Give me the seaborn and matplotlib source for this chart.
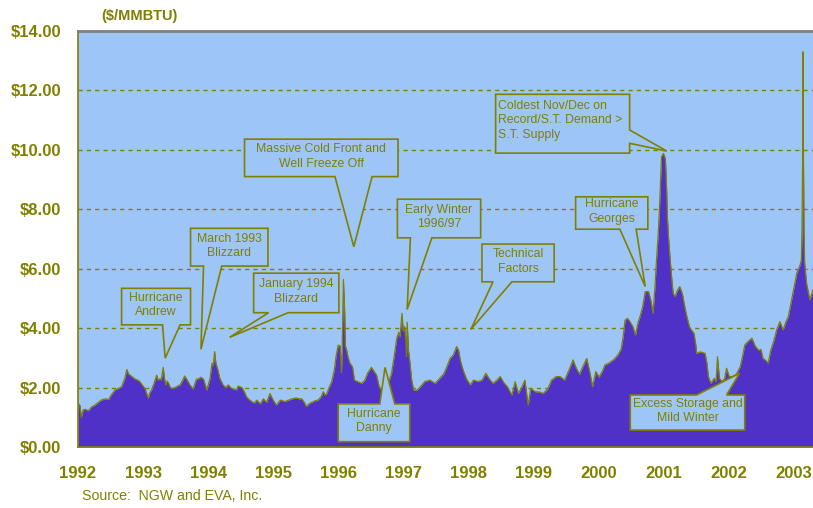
import matplotlib
matplotlib.use("Agg")
import matplotlib.pyplot as plt
from matplotlib.patches import Polygon
import numpy as np
import pandas as pd
import seaborn as sns

# ---------------- data ----------------
years = [
    1992.00, 1992.03, 1992.05, 1992.08, 1992.11, 1992.16, 1992.21, 1992.26, 1992.31, 1992.36,
    1992.42, 1992.47, 1992.51, 1992.57, 1992.62, 1992.67, 1992.72, 1992.75, 1992.78, 1992.80,
    1992.84, 1992.88, 1992.92, 1992.95, 1993.00, 1993.03, 1993.08, 1993.10, 1993.13, 1993.17,
    1993.21, 1993.23, 1993.26, 1993.28, 1993.31, 1993.33, 1993.35, 1993.37, 1993.39, 1993.42,
    1993.44, 1993.49, 1993.53, 1993.57, 1993.61, 1993.64, 1993.68, 1993.72, 1993.77, 1993.82,
    1993.86, 1993.89, 1993.93, 1993.98, 1994.03, 1994.06, 1994.08, 1994.10, 1994.12, 1994.15,
    1994.18, 1994.23, 1994.27, 1994.31, 1994.36, 1994.40, 1994.44, 1994.46, 1994.52, 1994.56,
    1994.59, 1994.63, 1994.67, 1994.71, 1994.75, 1994.80, 1994.85, 1994.90, 1994.95, 1995.00,
    1995.05, 1995.11, 1995.15, 1995.18, 1995.24, 1995.29, 1995.36, 1995.40, 1995.44, 1995.48,
    1995.51, 1995.55, 1995.59, 1995.64, 1995.69, 1995.74, 1995.77, 1995.80, 1995.82, 1995.86,
    1995.90, 1995.94, 1995.97, 1996.00, 1996.03, 1996.05, 1996.06, 1996.08, 1996.09, 1996.10,
    1996.11, 1996.13, 1996.15, 1996.18, 1996.22, 1996.25, 1996.30, 1996.36, 1996.41, 1996.45,
    1996.51, 1996.55, 1996.59, 1996.63, 1996.67, 1996.72, 1996.78, 1996.82, 1996.86, 1996.90,
    1996.93, 1996.95, 1996.98, 1997.00, 1997.02, 1997.04, 1997.05, 1997.06, 1997.08, 1997.10,
    1997.13, 1997.16, 1997.20, 1997.24, 1997.29, 1997.33, 1997.41, 1997.49, 1997.56, 1997.62,
    1997.67, 1997.72, 1997.77, 1997.82, 1997.85, 1997.88, 1997.92, 1997.97, 1998.03, 1998.08,
    1998.15, 1998.21, 1998.27, 1998.32, 1998.38, 1998.44, 1998.49, 1998.55, 1998.60, 1998.67,
    1998.72, 1998.77, 1998.82, 1998.87, 1998.92, 1998.96, 1999.03, 1999.10, 1999.15, 1999.22,
    1999.28, 1999.35, 1999.41, 1999.48, 1999.55, 1999.61, 1999.66, 1999.71, 1999.76, 1999.82,
    1999.87, 1999.91, 1999.96, 2000.01, 2000.06, 2000.10, 2000.16, 2000.24, 2000.30, 2000.35,
    2000.38, 2000.41, 2000.45, 2000.49, 2000.53, 2000.57, 2000.61, 2000.64, 2000.68, 2000.72,
    2000.77, 2000.81, 2000.84, 2000.87, 2000.89, 2000.92, 2000.94, 2000.96, 2000.97, 2001.00,
    2001.03, 2001.05, 2001.06, 2001.08, 2001.10, 2001.13, 2001.15, 2001.18, 2001.21, 2001.25,
    2001.29, 2001.33, 2001.36, 2001.40, 2001.43, 2001.47, 2001.50, 2001.51, 2001.56, 2001.60,
    2001.64, 2001.67, 2001.69, 2001.73, 2001.78, 2001.81, 2001.83, 2001.86, 2001.90, 2001.94,
    2001.97, 2002.01, 2002.06, 2002.12, 2002.18, 2002.21, 2002.25, 2002.30, 2002.36, 2002.41,
    2002.46, 2002.50, 2002.53, 2002.58, 2002.61, 2002.65, 2002.70, 2002.74, 2002.79, 2002.84,
    2002.88, 2002.92, 2002.97, 2003.01, 2003.05, 2003.10, 2003.12, 2003.13, 2003.14, 2003.145,
    2003.15, 2003.16, 2003.17, 2003.20, 2003.25, 2003.30,
]
prices = [
    1.47, 1.40, 1.00, 1.25, 1.27, 1.22, 1.35, 1.41, 1.50, 1.58,
    1.62, 1.60, 1.75, 1.92, 1.97, 2.03, 2.31, 2.61, 2.45, 2.42,
    2.35, 2.28, 2.25, 2.20, 2.05, 1.97, 1.64, 1.80, 1.92, 2.15,
    2.42, 2.25, 2.30, 2.25, 2.68, 2.30, 2.09, 2.22, 2.16, 2.00,
    1.97, 2.00, 2.05, 2.09, 2.25, 2.39, 2.25, 2.09, 1.95, 2.28,
    2.30, 2.35, 2.28, 1.92, 2.31, 2.82, 2.75, 3.21, 2.82, 2.60,
    2.31, 2.09, 2.00, 2.09, 1.97, 1.95, 1.92, 2.05, 2.00, 1.85,
    1.69, 1.60, 1.53, 1.48, 1.58, 1.45, 1.62, 1.50, 1.80, 1.58,
    1.41, 1.58, 1.55, 1.53, 1.58, 1.62, 1.65, 1.62, 1.62, 1.50,
    1.36, 1.45, 1.50, 1.55, 1.58, 1.70, 1.86, 1.75, 1.78, 2.00,
    2.20, 2.59, 3.10, 3.43, 3.40, 2.50, 3.15, 5.64, 5.10, 4.50,
    3.40, 3.26, 3.04, 2.82, 2.70, 2.25, 2.20, 2.14, 2.25, 2.48,
    2.68, 2.55, 2.42, 2.03, 1.90, 1.85, 2.20, 2.48, 3.04, 3.66,
    3.86, 3.70, 4.50, 3.90, 4.05, 3.60, 3.04, 4.20, 3.26, 2.90,
    2.25, 1.92, 1.90, 1.97, 2.10, 2.20, 2.25, 2.14, 2.31, 2.45,
    2.70, 2.98, 3.10, 3.38, 3.26, 2.90, 2.59, 2.30, 2.09, 2.25,
    2.20, 2.25, 2.48, 2.30, 2.14, 2.25, 2.37, 2.15, 2.03, 1.75,
    2.20, 1.80, 2.00, 2.25, 1.41, 1.97, 1.86, 1.85, 1.80, 1.95,
    2.25, 2.37, 2.37, 2.25, 2.60, 2.93, 2.65, 2.45, 2.70, 2.98,
    2.50, 2.03, 2.54, 2.35, 2.55, 2.76, 2.82, 2.95, 3.10, 3.30,
    3.70, 4.27, 4.33, 4.20, 4.05, 3.77, 4.20, 4.39, 4.72, 5.23,
    5.23, 4.90, 4.50, 5.40, 6.18, 7.20, 8.09, 9.20, 9.77, 9.88,
    9.70, 8.60, 7.75, 7.00, 6.40, 5.60, 5.17, 5.06, 5.25, 5.40,
    5.17, 4.70, 4.39, 4.05, 3.94, 3.82, 3.40, 3.15, 3.20, 3.18,
    3.15, 2.80, 2.37, 2.14, 2.31, 2.20, 3.04, 2.31, 2.20, 2.30,
    2.65, 2.37, 2.37, 2.45, 2.70, 3.00, 3.43, 3.55, 3.66, 3.40,
    3.26, 3.28, 2.98, 2.90, 2.82, 3.26, 3.60, 3.94, 4.22, 3.94,
    4.20, 4.39, 4.95, 5.40, 5.85, 6.12, 6.30, 7.30, 9.80, 13.30,
    10.50, 7.30, 6.20, 5.51, 4.95, 5.30,
]
year_ticks = list(range(1992, 2004))
price_ticks = [0, 2, 4, 6, 8, 10, 12, 14]
price_labels = ["$0.00", "$2.00", "$4.00", "$6.00", "$8.00", "$10.00", "$12.00", "$14.00"]

# callouts: text, box (x0, x1, y0, y1), tail side, tail base (a, b), tip (x, y)
callout_texts = [
    "Hurricane\nAndrew", "March 1993\nBlizzard", "January 1994\nBlizzard",
    "Massive Cold Front and\nWell Freeze Off", "Early Winter\n1996/97", "Technical\nFactors",
    "Coldest Nov/Dec on\nRecord/S.T. Demand >\nS.T. Supply", "Hurricane\nGeorges",
    "Excess Storage and\nMild Winter", "Hurricane\nDanny",
]
callout_boxes = [
    (1992.67, 1993.73, 4.11, 5.34), (1993.73, 1994.92, 6.09, 7.36), (1994.70, 1996.01, 4.52, 5.85),
    (1994.56, 1996.92, 9.10, 10.36), (1996.91, 1998.19, 7.04, 8.34), (1998.21, 1999.32, 5.56, 6.83),
    (1998.42, 2000.48, 9.89, 11.87), (1999.65, 2000.76, 7.33, 8.42), (2000.49, 2002.25, 0.57, 1.75),
    (1996.00, 1997.10, 0.18, 1.45),
]
callout_sides = ["bottom", "bottom", "bottom", "bottom", "bottom", "bottom", "right", "bottom", "top", "top"]
callout_bases = [
    (1993.30, 1993.57), (1993.93, 1994.21), (1994.93, 1995.23), (1995.95, 1996.52), (1997.11, 1997.44),
    (1998.38, 1998.67), (10.67, 10.22), (2000.33, 2000.58), (2001.51, 2001.97), (1996.64, 1996.87),
]
callout_tips = [
    (1993.34, 2.99), (1993.89, 3.29), (1994.33, 3.69), (1996.24, 6.74), (1997.06, 4.63),
    (1998.04, 3.96), (2001.05, 9.96), (2000.72, 5.40), (2002.17, 2.48), (1996.72, 2.68),
]

# ---------------- styling ----------------
BG = "#9DC6F7"
FILL = "#4F31C7"
OLIVE = "#808000"

sns.set_theme(style="white")
plt.rcParams["font.family"] = ["Liberation Sans", "DejaVu Sans"]

fig = plt.figure(figsize=(8.13, 5.08), dpi=100)
ax = fig.add_axes([78 / 813, 1 - 447 / 508, 735 / 813, 416 / 508])
ax.set_facecolor(BG)

df = pd.DataFrame({"year": years, "price": prices})
ax.fill_between(df["year"], df["price"], 0, color=FILL, lw=0, zorder=2)
sns.lineplot(data=df, x="year", y="price", color=OLIVE, lw=0.9, ax=ax, zorder=3)

ax.set_xlim(1992, 1992 + 735 / 65.05)
ax.set_ylim(0, 14)
ax.set_xticks(year_ticks)
ax.set_xticklabels([str(y) for y in year_ticks])
ax.set_yticks(price_ticks)
ax.set_yticklabels(price_labels)
ax.set_xlabel("")
ax.set_ylabel("")

for v in price_ticks[1:-1]:
    ax.axhline(v, color=OLIVE, lw=1.0, ls=(0, (3, 3)), zorder=1)

ax.tick_params(axis="y", direction="out", length=6, width=1, color=OLIVE, pad=6,
               labelsize=12, labelcolor=OLIVE)
ax.tick_params(axis="x", direction="out", length=4, width=1, color=OLIVE, pad=10,
               labelsize=12, labelcolor=OLIVE)
for lab in ax.get_xticklabels() + ax.get_yticklabels():
    lab.set_fontweight("bold")

ax.spines["right"].set_visible(False)
ax.spines["top"].set_color("#7F7F7F")
ax.spines["top"].set_linewidth(2)
ax.spines["left"].set_color(OLIVE)
ax.spines["left"].set_linewidth(1.2)
ax.spines["bottom"].set_color(OLIVE)
ax.spines["bottom"].set_linewidth(1.2)

# callouts
for text, (x0, x1, y0, y1), side, (a, b), tip in zip(
        callout_texts, callout_boxes, callout_sides, callout_bases, callout_tips):
    if side == "bottom":
        verts = [(x0, y1), (x1, y1), (x1, y0), (b, y0), tip, (a, y0), (x0, y0)]
    elif side == "top":
        verts = [(x0, y1), (a, y1), tip, (b, y1), (x1, y1), (x1, y0), (x0, y0)]
    else:  # right
        verts = [(x0, y1), (x1, y1), (x1, a), tip, (x1, b), (x1, y0), (x0, y0)]
    ax.add_patch(Polygon(verts, closed=True, facecolor=BG, edgecolor=OLIVE,
                         lw=1.2, zorder=5, joinstyle="miter"))
    if side == "right":
        ax.text(x0 + 0.04, y1 - 0.2, text, ha="left", va="top", color=OLIVE,
                fontsize=8.8, linespacing=1.25, zorder=6)
    else:
        ax.text((x0 + x1) / 2, (y0 + y1) / 2 + 0.05, text, ha="center", va="center",
                color=OLIVE, fontsize=8.8, linespacing=1.25, zorder=6)

fig.text(101 / 813, 1 - 16 / 508, "($/MMBTU)", ha="left", va="center",
         color=OLIVE, fontsize=10.5, fontweight="bold")
fig.text(82 / 813, 1 - 496 / 508, "Source:  NGW and EVA, Inc.", ha="left", va="center",
         color=OLIVE, fontsize=10.2)

fig.savefig("out.png", dpi=100)
